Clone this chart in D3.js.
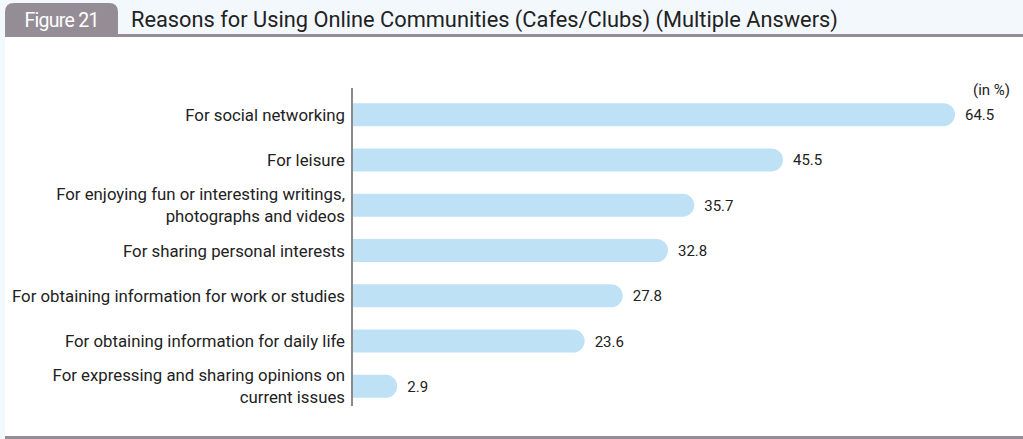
<!DOCTYPE html>
<html>
<head>
<meta charset="utf-8">
<script src="https://cdn.jsdelivr.net/npm/d3@7"></script>
<style>
  html, body { margin: 0; padding: 0; background: #f3f8fc; }
  svg { display: block; font-family: "Roboto", "DejaVu Sans", sans-serif; }
</style>
</head>
<body>
<svg id="chart" width="1023" height="439"></svg>
<script>
// Reasons for using online communities (multiple answers), in %
const categories = [
  ["For social networking"],
  ["For leisure"],
  ["For enjoying fun or interesting writings,", "photographs and videos"],
  ["For sharing personal interests"],
  ["For obtaining information for work or studies"],
  ["For obtaining information for daily life"],
  ["For expressing and sharing opinions on", "current issues"]
];
const values = [64.5, 45.5, 35.7, 32.8, 27.8, 23.6, 2.9];
const figureLabel = "Figure 21";
const title = "Reasons for Using Online Communities (Cafes/Clubs) (Multiple Answers)";
const unitLabel = "(in %)";

const W = 1023, H = 439;
const svg = d3.select("#chart");

// page panel
svg.append("rect").attr("x", 5).attr("y", 35).attr("width", W - 5).attr("height", H - 35)
  .attr("fill", "#ffffff");

// header tab
const tabX = 5, tabY = 3, tabW = 113, tabH = 33, r = 9;
svg.append("path")
  .attr("d", `M${tabX},${tabY + tabH} V${tabY + r} Q${tabX},${tabY} ${tabX + r},${tabY} H${tabX + tabW - r} Q${tabX + tabW},${tabY} ${tabX + tabW},${tabY + r} V${tabY + tabH} Z`)
  .attr("fill", "#958d95");
svg.append("rect").attr("x", 5).attr("y", 34).attr("width", W - 5).attr("height", 3).attr("fill", "#958d95");
svg.append("text").attr("x", 62).attr("y", 27).attr("text-anchor", "middle")
  .attr("fill", "#ffffff").attr("font-size", 19.5).attr("textLength", 75).text(figureLabel);
svg.append("text").attr("x", 131).attr("y", 27)
  .attr("fill", "#222").attr("font-size", 21.8).text(title);

// bottom rule
svg.append("rect").attr("x", 5).attr("y", 436).attr("width", W - 5).attr("height", 3).attr("fill", "#958d95");

svg.append("text").attr("x", 1010).attr("y", 95).attr("text-anchor", "end")
  .attr("fill", "#222").attr("font-size", 15).text(unitLabel);

// scales
const axisX = 353;
const y = d3.scaleBand().domain(d3.range(values.length)).range([92, 409]).paddingInner(0.5).paddingOuter(0.25);
const x = d3.scaleLinear().domain([0, 64.5]).range([371, 955]);

const bh = 23;
const g = svg.append("g");
values.forEach((v, i) => {
  const cy = y(i) + y.bandwidth() / 2;
  const x1 = x(v), rr = bh / 2;
  g.append("path")
    .attr("d", `M${axisX},${cy - rr} H${x1 - rr} A${rr},${rr} 0 0 1 ${x1 - rr},${cy + rr} H${axisX} Z`)
    .attr("fill", "#bfe1f5");
  g.append("text").attr("x", x1 + 10).attr("y", cy + 5.5)
    .attr("fill", "#222").attr("font-size", 15).text(v.toFixed(1));
  const lines = categories[i];
  const t = g.append("text").attr("text-anchor", "end").attr("fill", "#222").attr("font-size", 16.8);
  lines.forEach((ln, k) => {
    t.append("tspan").attr("x", 345)
      .attr("y", cy + 6 + (k - (lines.length - 1) / 2) * 22)
      .text(ln);
  });
});

// category axis line
svg.append("line").attr("x1", axisX - 1).attr("x2", axisX - 1).attr("y1", 88).attr("y2", 406)
  .attr("stroke", "#8a8a8a").attr("stroke-width", 2);
</script>
</body>
</html>
